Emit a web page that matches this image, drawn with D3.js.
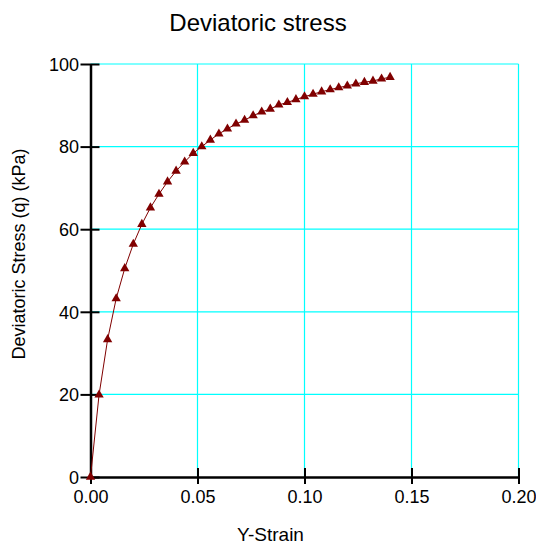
<!DOCTYPE html>
<html><head><meta charset="utf-8">
<script src="https://cdn.jsdelivr.net/npm/d3@7"></script>
<style>body{margin:0;background:#fff}svg{display:block}text{font-family:"Liberation Sans",Arial,sans-serif}</style>
</head><body>
<script>
const strain = [0,0.004,0.008,0.012,0.016,0.020,0.024,0.028,0.032,0.036,0.040,0.044,0.048,0.052,0.056,0.060,0.064,0.068,0.072,0.076,0.080,0.084,0.088,0.092,0.096,0.100,0.104,0.108,0.112,0.116,0.120,0.124,0.128,0.132,0.136,0.140];
const stress = [0,19.9,33.3,43.2,50.5,56.4,61.2,65.2,68.5,71.5,74.1,76.3,78.4,80.0,81.6,83.1,84.3,85.5,86.4,87.5,88.4,89.1,90.1,90.7,91.4,92.1,92.7,93.3,93.8,94.3,94.7,95.2,95.6,95.9,96.4,96.8];
const xTicks = [0,0.05,0.10,0.15,0.20];
const yTicks = [0,20,40,60,80,100];
const title = "Deviatoric stress", xTitle = "Y-Strain", yTitle = "Deviatoric Stress (q) (kPa)";

const W=536,H=544;
const svg=d3.select("body").append("svg").attr("width",W).attr("height",H);
const x=d3.scaleLinear().domain([0,0.2]).range([90.5,518.5]);
const y=d3.scaleLinear().domain([0,100]).range([477,64]);

// grid
svg.append("g").selectAll("line").data(xTicks.filter(d=>d>0)).join("line")
 .attr("x1",d=>x(d)).attr("x2",d=>x(d)).attr("y1",y(0)).attr("y2",y(100))
 .attr("stroke","#00FFFF").attr("stroke-width",1.2);
svg.append("g").selectAll("line").data(yTicks.filter(d=>d>0)).join("line")
 .attr("y1",d=>y(d)).attr("y2",d=>y(d)).attr("x1",x(0)).attr("x2",x(0.2))
 .attr("stroke","#00FFFF").attr("stroke-width",1.2);

// axes
const xa=svg.append("g").attr("transform",`translate(0,${y(0)})`)
 .call(d3.axisBottom(x).tickValues(xTicks).tickFormat(d3.format(".2f")).tickSize(0));
xa.select(".domain").attr("stroke","#000").attr("stroke-width",2.5);
xa.selectAll(".tick").append("line").attr("y1",-9).attr("y2",7).attr("stroke","#000").attr("stroke-width",2);
xa.selectAll("text").attr("y",25.5).attr("dy",null).attr("font-size",18).attr("fill","#000").attr("font-family","Liberation Sans, Arial, sans-serif");

const ya=svg.append("g").attr("transform",`translate(${x(0)},0)`)
 .call(d3.axisLeft(y).tickValues(yTicks).tickSize(0).tickPadding(11.5));
ya.select(".domain").attr("stroke","#000").attr("stroke-width",2.5);
ya.selectAll(".tick").append("line").attr("x1",-10).attr("x2",9).attr("stroke","#000").attr("stroke-width",2);
ya.selectAll("text").attr("dy","0.35em").attr("font-size",18).attr("fill","#000").attr("font-family","Liberation Sans, Arial, sans-serif");

// series
const pts=strain.map((s,i)=>[s,stress[i]]);
svg.append("path").datum(pts).attr("fill","none").attr("stroke","#800000").attr("stroke-width",1)
 .attr("d",d3.line().x(d=>x(d[0])).y(d=>y(d[1])));
svg.append("g").selectAll("path").data(pts).join("path")
 .attr("transform",d=>`translate(${x(d[0])},${y(d[1])})`)
 .attr("d",d3.symbol(d3.symbolTriangle,38))
 .attr("fill","#800000");

// titles
svg.append("text").attr("x",258).attr("y",31).attr("text-anchor","middle").attr("font-size",24).text(title);
svg.append("text").attr("x",270.5).attr("y",540.5).attr("text-anchor","middle").attr("font-size",19).text(xTitle);
svg.append("text").attr("transform","translate(24.5,254) rotate(-90)").attr("text-anchor","middle").attr("font-size",18).text(yTitle);
</script>
</body></html>
